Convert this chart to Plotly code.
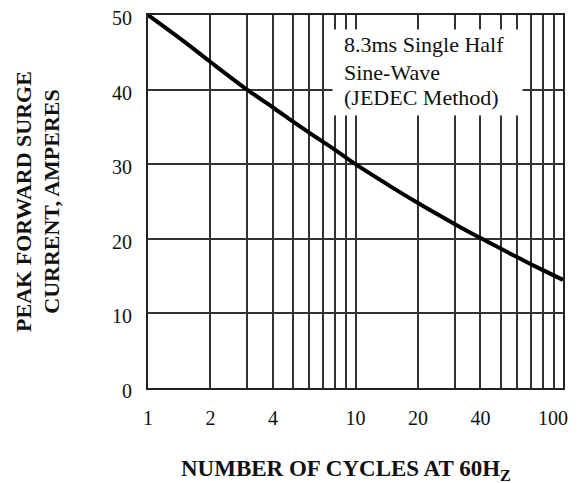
import plotly.graph_objects as go

# ---- data ----
cycles = [1, 1.5, 2, 3, 4, 5, 6, 8, 10, 15, 20, 30, 40, 50, 60, 80, 100]
surge_current = [50, 46.4, 43.7, 40, 37.6, 35.7, 34.2, 31.9, 30.0, 26.9, 24.8, 22.0, 20.1, 18.7, 17.55, 15.8, 14.5]

NBSP = "\u00a0"
x_tick_vals = [1, 2, 3, 4, 5, 6, 7, 8, 9, 10, 20, 30, 40, 50, 60, 70, 80, 90, 100]
x_tick_text = ["1", "2", "", "4", "", "", "", "", "", "10", "20", "", "40", "", "", "", "", "", "100" + NBSP * 4]
y_tick_vals = [0, 10, 20, 30, 40, 50]
y_tick_text = ["0", "10", "20", "30", "40", "50"]

x_title = "NUMBER OF CYCLES AT 60H<sub>Z</sub>"
y_title = "PEAK FORWARD SURGE<br>CURRENT, AMPERES"
note_lines = ["8.3ms Single Half", "Sine-Wave", "(JEDEC Method)"]

SERIF = "Liberation Serif, Times New Roman, serif"
INK = "#111111"

fig = go.Figure()
fig.add_trace(go.Scatter(
    x=cycles, y=surge_current, mode="lines",
    line=dict(color="#000000", width=4, shape="spline", smoothing=1.0),
    showlegend=False, hoverinfo="skip",
))

# the page body has an 8px default margin, so the figure is sized/placed to compensate
fig.update_layout(
    width=574, height=475,
    margin=dict(l=140, r=19, t=7, b=95, autoexpand=False),
    paper_bgcolor="white", plot_bgcolor="white",
    showlegend=False,
    xaxis=dict(
        type="log", range=[0, 2], automargin=False,
        tickmode="array", tickvals=x_tick_vals, ticktext=x_tick_text,
        showgrid=True, gridcolor="#333333", gridwidth=1.6,
        showline=True, linecolor="#222222", linewidth=2, mirror=True,
        ticks="", ticklabelstandoff=11, ticklabeloverflow="allow",
        tickfont=dict(family=SERIF, size=20, color=INK),
        zeroline=False,
    ),
    yaxis=dict(
        range=[0, 50], automargin=False,
        tickmode="array", tickvals=y_tick_vals, ticktext=y_tick_text,
        showgrid=True, gridcolor="#333333", gridwidth=1.6,
        showline=True, linecolor="#222222", linewidth=2, mirror=True,
        ticks="", ticklabelstandoff=10, ticklabeloverflow="allow",
        ticklabelshift=3,
        tickfont=dict(family=SERIF, size=20, color=INK),
        zeroline=False,
        title=dict(text="<b>" + y_title + "</b>",
                   font=dict(family=SERIF, size=22, color=INK),
                   standoff=46),
    ),
)

# x-axis title
fig.add_annotation(
    xref="paper", yref="paper", x=0.476, y=-0.2198,
    xanchor="center", yanchor="middle",
    text="<b>" + x_title + "</b>", showarrow=False,
    font=dict(family=SERIF, size=23, color=INK),
)

# white box behind the note (breaks the grid lines like in the reference)
fig.add_annotation(
    xref="paper", yref="paper", x=0.6735, y=0.8458,
    xanchor="center", yanchor="middle",
    text=" ", showarrow=False, bgcolor="white",
    width=187, height=83, borderpad=1,
    font=dict(family=SERIF, size=10, color="white"),
)

note_y = [0.9196, 0.847, 0.7775]
for line, yy in zip(note_lines, note_y):
    fig.add_annotation(
        xref="paper", yref="paper", x=0.4675, y=yy,
        xanchor="left", yanchor="middle",
        text=line, align="left", showarrow=False,
        font=dict(family=SERIF, size=22, color=INK),
    )

fig.write_html("out.html")
